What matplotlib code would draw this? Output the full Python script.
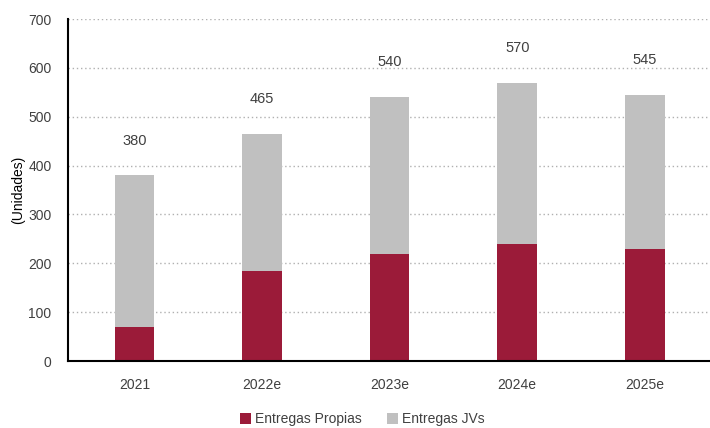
import matplotlib.pyplot as plt
import numpy as np

# data
years = ['2021', '2022e', '2023e', '2024e', '2025e']
propias = [70, 185, 220, 240, 230]
totals = [380, 465, 540, 570, 545]
jvs = [t - p for t, p in zip(totals, propias)]

red = '#9b1b39'
grey = '#c0c0c0'
text_color = '#404040'

plt.rcParams['font.family'] = ['Liberation Sans', 'DejaVu Sans']

fig = plt.figure(figsize=(7.1, 4.28), dpi=100)
ax = fig.add_axes([0.096, 0.1565, 0.902, 0.799])

x = np.arange(len(years))
ax.bar(x, propias, width=0.31, color=red, label='Entregas Propias', zorder=3)
ax.bar(x, jvs, width=0.31, bottom=propias, color=grey, label='Entregas JVs', zorder=3)

# total labels above each bar
for xi, t in zip(x, totals):
    ax.annotate(str(t), (xi, t), xytext=(0, 25), textcoords='offset points',
                ha='center', va='center', fontsize=10.5, color=text_color)

ax.set_xlim(-0.52, 4.5)
ax.set_ylim(0, 700)
ax.set_yticks(range(0, 701, 100))
ax.set_xticks(x)
ax.set_xticklabels(years)
ax.tick_params(length=0, labelsize=10, colors=text_color)
ax.tick_params(axis='x', pad=12)
ax.tick_params(axis='y', pad=12)

ax.grid(axis='y', linestyle=(0, (1, 2)), color='#b0b0b0', linewidth=1, zorder=0)
for s in ['top', 'right']:
    ax.spines[s].set_visible(False)
ax.spines['left'].set_linewidth(1.5)
ax.spines['bottom'].set_linewidth(1.5)
ax.spines['left'].set_zorder(4)
ax.spines['bottom'].set_zorder(4)

ax.set_ylabel('(Unidades)', fontsize=10, color='black', labelpad=2)

fig.legend(loc='lower center', bbox_to_anchor=(0.51, -0.025), ncol=2, frameon=False,
           fontsize=10, handlelength=0.8, handleheight=0.8, handletextpad=0.3,
           columnspacing=1.8, labelcolor=text_color)

plt.savefig('out.png')
